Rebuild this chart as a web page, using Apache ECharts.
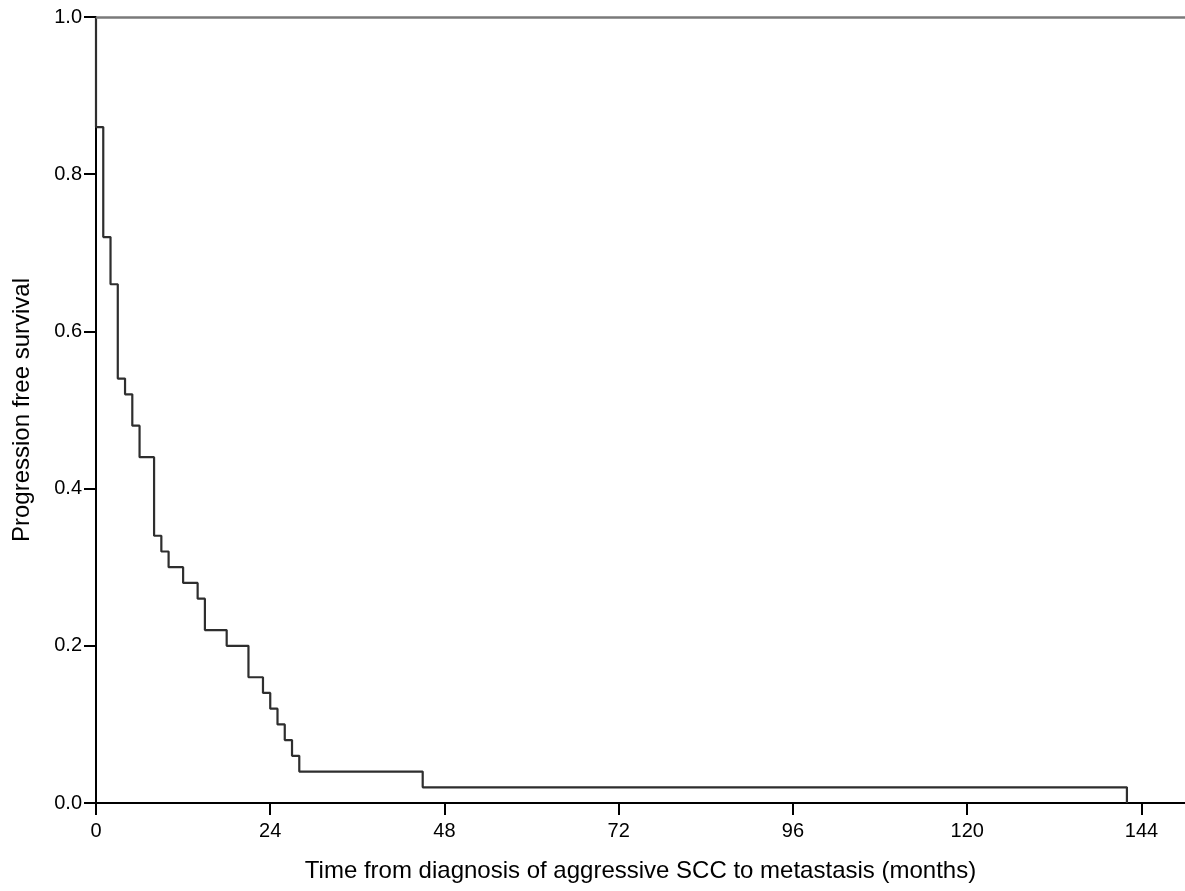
<!DOCTYPE html>
<html>
<head>
<meta charset="utf-8">
<script src="https://cdn.jsdelivr.net/npm/echarts@6/dist/echarts.min.js"></script>
<style>html,body{margin:0;padding:0;background:#fff;}#chart{width:1185px;height:891px;}</style>
</head>
<body>
<div id="chart"></div>
<script>
// Kaplan-Meier step points: event times (months) and survival after each step
var eventTimes = [0, 0, 1, 2, 3, 4, 5, 6, 8, 9, 10, 12, 14, 15, 18, 21, 23, 24, 25, 26, 27, 28, 45, 142];
var survival   = [1.0, 0.86, 0.72, 0.66, 0.54, 0.52, 0.48, 0.44, 0.34, 0.32, 0.30, 0.28, 0.26, 0.22, 0.20, 0.16, 0.14, 0.12, 0.10, 0.08, 0.06, 0.04, 0.02, 0.0];
var xTicks = [0, 24, 48, 72, 96, 120, 144];
var yTicks = [0.0, 0.2, 0.4, 0.6, 0.8, 1.0];
var referenceLevel = 1.0;
var xMax = 150;
var xTitle = 'Time from diagnosis of aggressive SCC to metastasis (months)';
var yTitle = 'Progression free survival';

var curve = eventTimes.map(function (t, i) { return [t, survival[i]]; });
var font = 'Arial, "Liberation Sans", sans-serif';

var chart = echarts.init(document.getElementById('chart'), null, {renderer: 'canvas'});
chart.setOption({
  animation: false,
  backgroundColor: '#ffffff',
  grid: {left: 96, right: -1, top: 17, bottom: 88, containLabel: false},
  xAxis: {
    type: 'value',
    min: xTicks[0],
    max: xMax,
    interval: xTicks[1] - xTicks[0],
    name: xTitle,
    nameLocation: 'middle',
    nameGap: 56,
    nameTextStyle: {fontFamily: font, fontSize: 24, color: '#000'},
    axisLine: {show: true, onZero: false, lineStyle: {color: '#000', width: 2}},
    axisTick: {show: true, length: 12, lineStyle: {color: '#000', width: 2}},
    axisLabel: {
      margin: 18, fontFamily: font, fontSize: 20, color: '#000',
      showMaxLabel: false,
      formatter: function (v) { return xTicks.indexOf(v) >= 0 ? String(v) : ''; }
    },
    splitLine: {show: false}
  },
  yAxis: {
    type: 'value',
    min: yTicks[0],
    max: yTicks[yTicks.length - 1],
    interval: 0.2,
    name: yTitle,
    nameLocation: 'middle',
    nameGap: 62,
    nameTextStyle: {fontFamily: font, fontSize: 24, color: '#000'},
    axisLine: {show: true, onZero: false, lineStyle: {color: '#000', width: 2}},
    axisTick: {show: true, length: 12, lineStyle: {color: '#000', width: 2}},
    axisLabel: {
      margin: 14, fontFamily: font, fontSize: 20, color: '#000',
      formatter: function (v) { return v.toFixed(1); }
    },
    splitLine: {show: false}
  },
  series: [
    {
      type: 'line',
      data: curve,
      step: 'end',
      symbol: 'none',
      lineStyle: {color: '#2e2e2e', width: 2.2},
      markLine: {
        silent: true,
        symbol: ['none', 'none'],
        label: {show: false},
        lineStyle: {color: '#7a7a7a', width: 2.5, type: 'solid'},
        data: [{yAxis: referenceLevel}]
      },
      z: 3
    }
  ]
});
</script>
</body>
</html>
